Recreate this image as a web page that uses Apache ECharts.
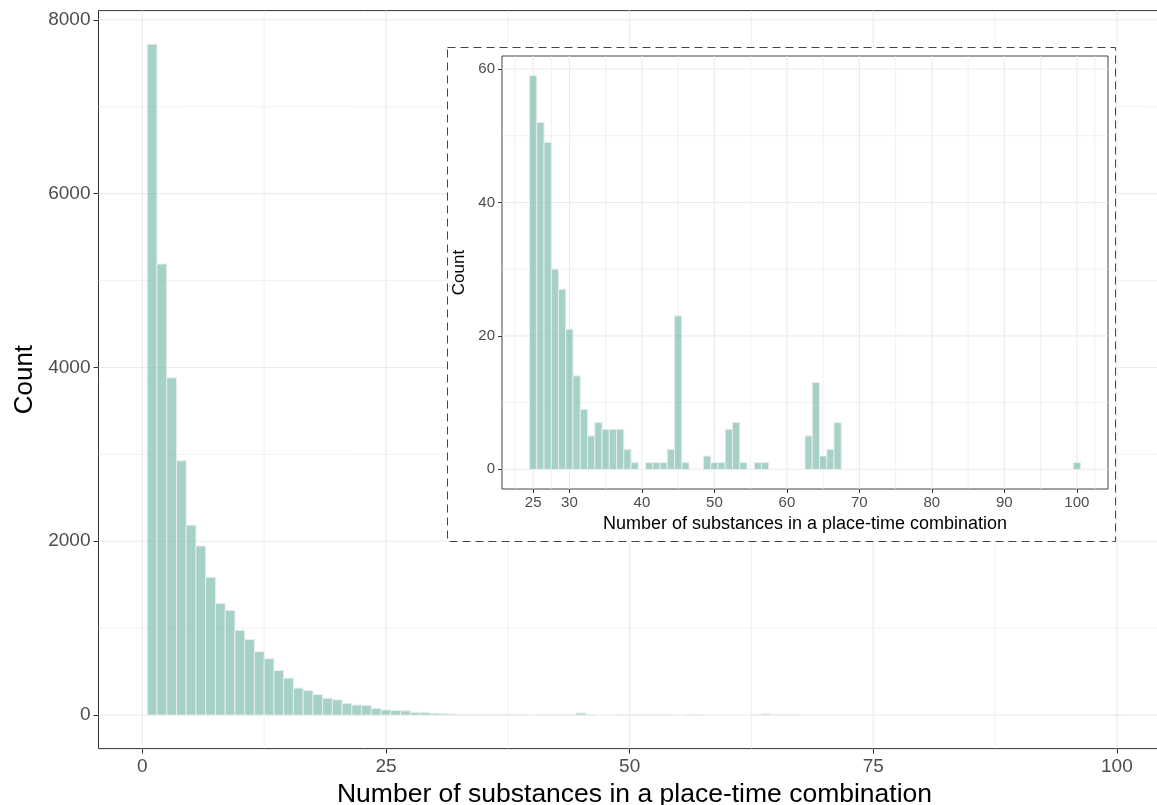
<!DOCTYPE html>
<html>
<head>
<meta charset="utf-8">
<script src="https://cdn.jsdelivr.net/npm/echarts@6/dist/echarts.min.js"></script>
<style>
  html, body { margin: 0; padding: 0; background: #ffffff; }
  #chart { width: 1157px; height: 805px; }
</style>
</head>
<body>
<div id="chart"></div>
<script>
// counts per substance number (bin width 1, centred on the integer)
const mainBins = Array.from({ length: 100 }, (_, i) => i + 1);
const mainCounts = [
  7720, 5190, 3880, 2925, 2185, 1945, 1585, 1285, 1205, 975,
  868, 728, 648, 513, 425, 310, 282, 236, 194, 175,
  135, 115, 110, 75, 59, 52, 49, 30, 27, 21,
  14, 9, 5, 7, 6, 6, 6, 3, 1, 0,
  1, 1, 1, 3, 23, 1, 0, 0, 2, 1,
  1, 6, 7, 1, 0, 1, 1, 0, 0, 0,
  0, 0, 5, 13, 2, 3, 7, 0, 0, 0,
  0, 0, 0, 0, 0, 0, 0, 0, 0, 0,
  0, 0, 0, 0, 0, 0, 0, 0, 0, 0,
  0, 0, 0, 0, 0, 0, 0, 0, 0, 1
];

// inset: same data, only place-time combinations with 25+ substances
const insetBins = mainBins.filter((b) => b >= 25);
const insetCounts = insetBins.map((b) => mainCounts[b - 1]);

const mainXTicks = [0, 25, 50, 75, 100];
const mainXMinor = [12.5, 37.5, 62.5, 87.5];
const mainYTicks = [0, 2000, 4000, 6000, 8000];
const mainYMinor = [1000, 3000, 5000, 7000];

const insetXTicks = [25, 30, 40, 50, 60, 70, 80, 90, 100];
const insetXMinor = [22.5, 27.5, 35, 45, 55, 65, 75, 85, 95, 102.5];
const insetYTicks = [0, 20, 40, 60];
const insetYMinor = [10, 30, 50];

const X_TITLE = "Number of substances in a place-time combination";
const FONT = "'Liberation Sans', Arial, sans-serif";
const FILL = "rgba(105,179,162,0.6)";
const OUTLINE = "#e9ecef";
const GRID_COLOR = "#ebebeb";

// ggplot-like 5% expansion of the data range
function expand(lo, hi) {
  const pad = (hi - lo) * 0.05;
  return [lo - pad, hi + pad];
}

const mainXRange = expand(mainBins[0] - 0.5, mainBins[mainBins.length - 1] + 0.5);
const mainYRange = expand(0, Math.max(...mainCounts));
const insetXRange = expand(insetBins[0] - 0.5, insetBins[insetBins.length - 1] + 0.5);
const insetYRange = expand(0, Math.max(...insetCounts));

const MAIN = { left: 98.5, top: 10.6, width: 1072, height: 738 };
const INSET = { left: 502, top: 56, width: 606, height: 433 };

function histSeries(index, bins, counts, z) {
  return {
    type: "custom",
    xAxisIndex: index,
    yAxisIndex: index,
    z,
    silent: true,
    data: bins.map((b, i) => [b, counts[i]]),
    renderItem(params, api) {
      const x = api.value(0);
      const y = api.value(1);
      if (!y) return null;
      const p0 = api.coord([x - 0.5, y]);
      const p1 = api.coord([x + 0.5, 0]);
      return {
        type: "rect",
        shape: { x: p0[0], y: p0[1], width: p1[0] - p0[0], height: p1[1] - p0[1] },
        style: { fill: FILL, stroke: OUTLINE, lineWidth: 1 },
      };
    },
  };
}

// grid lines as [value, direction (0 vertical, 1 horizontal), major flag]
function gridSeries(index, xMajor, xMinor, yMajor, yMinor, xRange, yRange, z) {
  const data = [
    ...xMinor.map((v) => [v, 0, 0]),
    ...yMinor.map((v) => [v, 1, 0]),
    ...xMajor.map((v) => [v, 0, 1]),
    ...yMajor.map((v) => [v, 1, 1]),
  ];
  return {
    type: "custom",
    xAxisIndex: index,
    yAxisIndex: index,
    z,
    silent: true,
    encode: { x: -1, y: -1 },
    data,
    renderItem(params, api) {
      const v = api.value(0);
      const dir = api.value(1);
      const major = api.value(2);
      let a, b;
      if (dir === 0) {
        a = api.coord([v, yRange[0]]);
        b = api.coord([v, yRange[1]]);
      } else {
        a = api.coord([xRange[0], v]);
        b = api.coord([xRange[1], v]);
      }
      return {
        type: "line",
        shape: { x1: a[0], y1: a[1], x2: b[0], y2: b[1] },
        style: { stroke: GRID_COLOR, lineWidth: major ? 1.1 : 0.7 },
      };
    },
  };
}

function axisCommon(ticks, labelSize, labelMargin, tickLen) {
  return {
    axisLine: { show: false, onZero: false },
    axisTick: {
      show: true,
      inside: false,
      customValues: ticks,
      length: tickLen,
      lineStyle: { color: "#333333", width: 1 },
    },
    axisLabel: {
      customValues: ticks,
      color: "#4d4d4d",
      fontFamily: FONT,
      fontSize: labelSize,
      margin: labelMargin,
      formatter: (value) => String(value),
    },
    splitLine: { show: false },
  };
}

const chart = echarts.init(document.getElementById("chart"), null, { renderer: "canvas" });

chart.setOption({
  backgroundColor: "#ffffff",
  animation: false,
  grid: [
    {
      ...MAIN,
      containLabel: false,
      outerBoundsMode: "none",
      show: true,
      backgroundColor: "#ffffff",
      borderColor: "#333333",
      borderWidth: 1,
      z: 0,
    },
    {
      ...INSET,
      containLabel: false,
      outerBoundsMode: "none",
      show: true,
      backgroundColor: "#ffffff",
      borderColor: "#444444",
      borderWidth: 1,
      z: 11,
    },
  ],
  xAxis: [
    {
      type: "value",
      gridIndex: 0,
      min: mainXRange[0],
      max: mainXRange[1],
      name: X_TITLE,
      nameLocation: "middle",
      nameGap: 26,
      nameTextStyle: { color: "#000000", fontFamily: FONT, fontSize: 26.5 },
      z: 3,
      ...axisCommon(mainXTicks, 19, 9, 5),
    },
    {
      type: "value",
      gridIndex: 1,
      min: insetXRange[0],
      max: insetXRange[1],
      name: X_TITLE,
      nameLocation: "middle",
      nameGap: 24,
      nameTextStyle: { color: "#000000", fontFamily: FONT, fontSize: 18 },
      z: 14,
      ...axisCommon(insetXTicks, 15, 6, 4),
    },
  ],
  yAxis: [
    {
      type: "value",
      gridIndex: 0,
      min: mainYRange[0],
      max: mainYRange[1],
      name: "Count",
      nameLocation: "middle",
      nameGap: 54,
      nameTextStyle: { color: "#000000", fontFamily: FONT, fontSize: 26 },
      z: 3,
      ...axisCommon(mainYTicks, 19, 8, 5),
    },
    {
      type: "value",
      gridIndex: 1,
      min: insetYRange[0],
      max: insetYRange[1],
      name: "Count",
      nameLocation: "middle",
      nameGap: 28,
      nameTextStyle: { color: "#000000", fontFamily: FONT, fontSize: 17 },
      z: 14,
      ...axisCommon(insetYTicks, 15, 7, 4),
    },
  ],
  graphic: [
    {
      type: "rect",
      z: 10,
      silent: true,
      shape: {
        x: INSET.left - 54.5,
        y: INSET.top - 8.5,
        width: INSET.width + 62,
        height: INSET.height + 61,
      },
      style: { fill: "#ffffff", stroke: "#444444", lineWidth: 1, lineDash: [8, 5] },
    },
  ],
  series: [
    gridSeries(0, mainXTicks, mainXMinor, mainYTicks, mainYMinor, mainXRange, mainYRange, 1),
    histSeries(0, mainBins, mainCounts, 2),
    gridSeries(1, insetXTicks, insetXMinor, insetYTicks, insetYMinor, insetXRange, insetYRange, 12),
    histSeries(1, insetBins, insetCounts, 13),
  ],
});
</script>
</body>
</html>
